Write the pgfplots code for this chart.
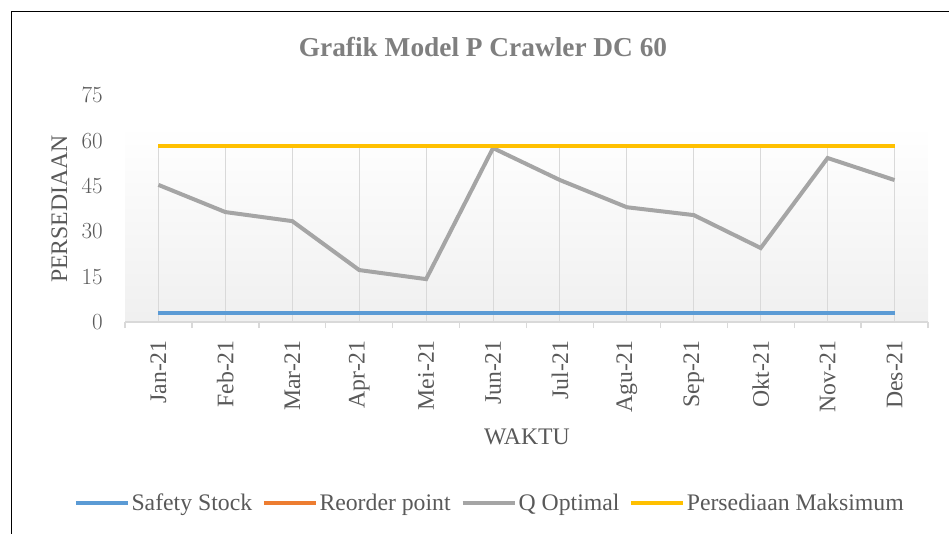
\documentclass[border=0pt]{standalone}
\usepackage{pgfplots}
\pgfplotsset{compat=1.18}
\usepackage{fontspec}
\setmainfont{Liberation Serif}
\definecolor{ss}{HTML}{5B9BD5}
\definecolor{rp}{HTML}{ED7D31}
\definecolor{qo}{HTML}{A5A5A5}
\definecolor{pm}{HTML}{FFC000}
\definecolor{txt}{HTML}{595959}
\definecolor{ttl}{HTML}{7F7F7F}
\definecolor{axl}{HTML}{D9D9D9}
\newcommand{\lbl}{\fontsize{17.8}{21}\selectfont}
\begin{document}
\begin{tikzpicture}
\useasboundingbox (0,0) rectangle (711.75pt,-400.5pt);
\draw[line width=1.1pt] (8.6pt,-400.5pt) -- (8.6pt,-8.6pt) -- (711.75pt,-8.6pt);
\shade[top color=white, bottom color=black!6] (93.75pt,-93.75pt) rectangle (696pt,-241.5pt);
\node[font=\fontsize{20.5}{24}\selectfont\bfseries, text=ttl] at (362.25pt,-35.25pt) {Grafik Model P Crawler DC 60};
\node[rotate=90, font=\lbl, text=txt] at (44.6pt,-156.75pt) {PERSEDIAAN};
\node[font=\lbl, text=txt] at (395.25pt,-327.75pt) {WAKTU};
\begin{axis}[
  at={(93.75pt,-241.5pt)}, anchor=south west,
  scale only axis, width=602.25pt, height=169.875pt,
  xmin=-0.5, xmax=11.5, ymin=0, ymax=75,
  ytick={0,15,30,45,60,75},
  xtick={0,...,11},
  xticklabels={Jan-21,Feb-21,Mar-21,Apr-21,Mei-21,Jun-21,Jul-21,Agu-21,Sep-21,Okt-21,Nov-21,Des-21},
  axis x line*=bottom, axis y line*=left,
  x axis line style={draw=axl, line width=1.1pt, -},
  y axis line style={draw=none},
  major tick length=0pt,
  extra x ticks={-0.5,0.5,...,11.5},
  extra x tick labels={},
  extra x tick style={major tick length=4.5pt, tick align=outside, tick style={draw=axl, line width=1pt}},
  ticklabel style={font=\lbl, text=txt},
  yticklabel style={anchor=east, inner sep=0pt},
  yticklabel shift=16.5pt,
  xticklabel style={anchor=east, rotate=90, inner sep=0pt},
  xticklabel shift=13.5pt,
  legend columns=4,
  legend style={at={(0.4545,-0.799)}, anchor=center, draw=none, fill=none,
    font=\lbl, text=txt, inner sep=0pt,
    nodes={inner sep=1.5pt},
    /tikz/every even column/.append style={column sep=6pt}},
  legend image code/.code={\draw[#1] (0pt,0pt) -- (39pt,0pt);},
  clip=false,
]
\addplot[ycomb, draw=axl, line width=0.8pt, forget plot] coordinates {
(0,58)(1,58)(2,58)(3,58)(4,58)(5,58)(6,58)(7,58)(8,58)(9,58)(10,58)(11,58)};
\addplot[draw=rp, line width=2.5pt, forget plot] coordinates {
(0,3)(1,3)(2,3)(3,3)(4,3)(5,3)(6,3)(7,3)(8,3)(9,3)(10,3)(11,3)};
\addplot[draw=ss, line width=2.5pt] coordinates {
(0,3)(1,3)(2,3)(3,3)(4,3)(5,3)(6,3)(7,3)(8,3)(9,3)(10,3)(11,3)};
\addlegendentry{Safety Stock}
\addlegendimage{draw=rp, line width=2.5pt}
\addlegendentry{Reorder point}
\addplot[draw=qo, line width=3pt] coordinates {
(0,45.4)(1,36.4)(2,33.4)(3,17.2)(4,14.2)(5,57.6)(6,47)(7,38)(8,35.4)(9,24.5)(10,54.3)(11,47)};
\addlegendentry{Q Optimal}
\addplot[draw=pm, line width=2.5pt] coordinates {
(0,58.3)(1,58.3)(2,58.3)(3,58.3)(4,58.3)(5,58.3)(6,58.3)(7,58.3)(8,58.3)(9,58.3)(10,58.3)(11,58.3)};
\addlegendentry{Persediaan Maksimum}
\end{axis}
\end{tikzpicture}
\end{document}
